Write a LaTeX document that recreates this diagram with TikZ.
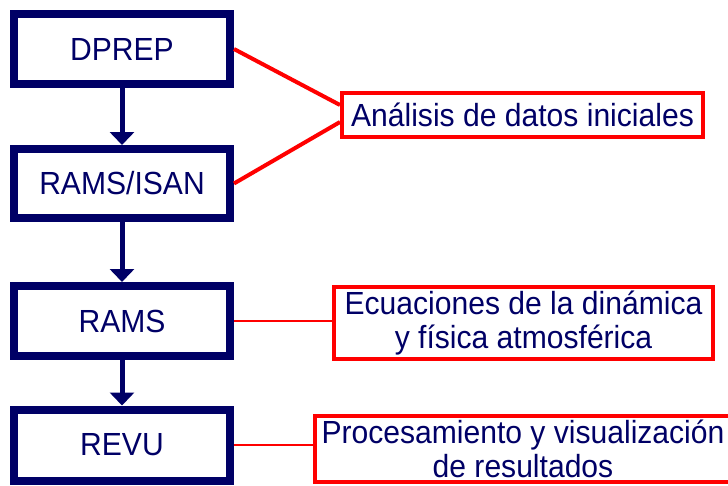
\documentclass[tikz,border=0pt]{standalone}
\usepackage{fontspec}
\setmainfont{Liberation Sans}[FakeStretch=0.94]
\usepackage{tikz}
\usetikzlibrary{arrows.meta,positioning,calc}
\definecolor{Navy}{HTML}{000066}
\definecolor{NoteRed}{HTML}{FF0000}

\begin{document}
\begin{tikzpicture}[x=1pt,y=-1pt,
  prog/.style={draw=Navy,line width=8pt,text=Navy,minimum width=216pt,minimum height=70pt,inner sep=0pt,font=\fontsize{32}{34}\selectfont},
  nota/.style={draw=NoteRed,line width=4pt,text=Navy,inner sep=0pt,align=center,font=\fontsize{32}{34}\selectfont},
  flujo/.style={Navy,line width=5pt,-{Triangle[width=24pt,length=13pt]}},
  enlace/.style={NoteRed,line width=2.5pt}]
\useasboundingbox (0,0) rectangle (728,485);
\node[prog] (dprep) at (122,49) {DPREP};
\node[prog,minimum height=69pt] (isan) at (122,183.5) {RAMS/ISAN};
\node[prog] (rams) at (122,321) {RAMS};
\node[prog,minimum height=71pt] (revu) at (122,445) {REVU};
\draw[flujo] (dprep) -- (isan);
\draw[flujo] (isan) -- (rams);
\draw[flujo] (rams) -- (revu);
\node[nota,minimum width=361pt,minimum height=44pt] (analisis) at (522.5,115) {Análisis de datos iniciales};
\node[nota,minimum width=379pt,minimum height=72pt] (ecuaciones) at (523.5,323) {Ecuaciones de la dinámica\\ y física atmosférica};
\node[nota,minimum width=416pt,minimum height=66pt] (proceso) at (523,449) {Procesamiento y visualización\\ de resultados};
\draw[enlace,line width=4pt] (dprep.east) -- ([yshift=10pt]analisis.west);
\draw[enlace,line width=4pt] (isan.east) -- ([yshift=-7pt]analisis.west);
\draw[enlace] (rams.east) -- (rams.east -| ecuaciones.west);
\draw[enlace] (revu.east) -- (revu.east -| proceso.west);
\end{tikzpicture}
\end{document}
